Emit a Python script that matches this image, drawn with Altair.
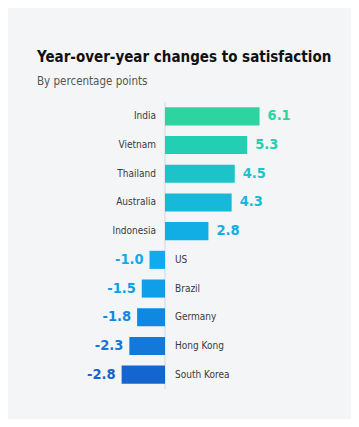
import altair as alt
import pandas as pd

countries = ["India", "Vietnam", "Thailand", "Australia", "Indonesia",
             "US", "Brazil", "Germany", "Hong Kong", "South Korea"]
changes = [6.1, 5.3, 4.5, 4.3, 2.8, -1.0, -1.5, -1.8, -2.3, -2.8]
colors = ["#2dd4a0", "#22cfb2", "#1cc3c8", "#18b8d8", "#11aee6",
          "#10aaee", "#0f9ee8", "#1188e0", "#1478d8", "#1565d0"]

df = pd.DataFrame({"country": countries, "change": changes})
FONT = "DejaVu Sans Condensed"

xs = alt.Scale(domain=[-10.13, 12.0], nice=False)
y = alt.Y("country:N", sort=countries, axis=None,
          scale=alt.Scale(paddingInner=0.37, paddingOuter=0.185))
color = alt.Color("country:N", scale=alt.Scale(domain=countries, range=colors), legend=None)

base = alt.Chart(df).transform_calculate(
    zero="0",
    label="replace(format(datum.change, '.1f'), '\u2212', '-')",
)

rule = alt.Chart(pd.DataFrame({"zero": [0]})).mark_rule(color="#d3d8dd", strokeWidth=1).encode(
    x=alt.X("zero:Q", scale=xs, axis=None)
)

bars = base.mark_bar().encode(
    x=alt.X("change:Q", scale=xs, axis=None), y=y, color=color
)

pos = base.transform_filter("datum.change > 0")
neg = base.transform_filter("datum.change < 0")

pos_country = pos.mark_text(align="right", baseline="middle", dx=-9, font=FONT,
                            fontSize=10, color="#3a3a3a").encode(
    x=alt.X("zero:Q", scale=xs, axis=None), y=y, text="country:N")
neg_country = neg.mark_text(align="left", baseline="middle", dx=10, font=FONT,
                            fontSize=10, color="#3a3a3a").encode(
    x=alt.X("zero:Q", scale=xs, axis=None), y=y, text="country:N")

pos_val = pos.mark_text(align="left", baseline="middle", dx=8, font=FONT,
                        fontSize=14.5, fontWeight="bold").encode(
    x=alt.X("change:Q", scale=xs, axis=None), y=y,
    text="label:N", color=color)
neg_val = neg.mark_text(align="right", baseline="middle", dx=-6, font=FONT,
                        fontSize=14.5, fontWeight="bold").encode(
    x=alt.X("change:Q", scale=xs, axis=None), y=y,
    text="label:N", color=color)

chart = alt.layer(rule, bars, pos_country, neg_country, pos_val, neg_val).properties(
    width=343, height=287,
    autosize=alt.AutoSizeParams(type="none"),
    padding={"top": 94, "left": 0, "right": 0, "bottom": 30},
    background="#f3f5f7",
    title=alt.TitleParams(
        "Year-over-year changes to satisfaction",
        subtitle="By percentage points",
        anchor="start", font=FONT, fontSize=15, fontWeight="bold", color="#111111",
        subtitleFont=FONT, subtitleFontSize=11.5, subtitleColor="#555555",
        dx=29, offset=14, subtitlePadding=11,
    ),
).configure_view(stroke=None)

chart.save("out.html", embed_options={"renderer": "svg", "actions": False})
